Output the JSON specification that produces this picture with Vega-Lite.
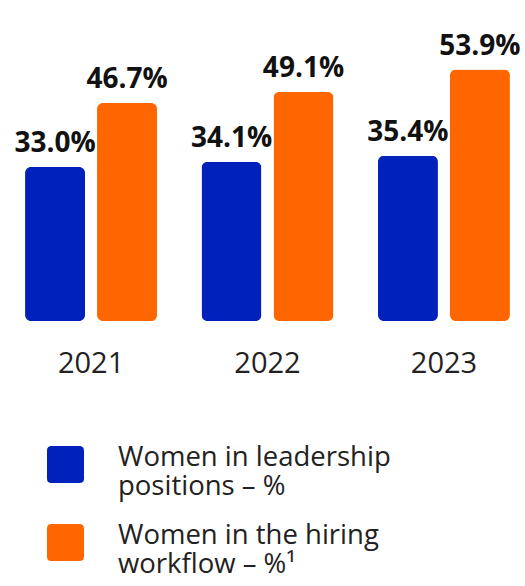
{
  "$schema": "https://vega.github.io/schema/vega-lite/v6.json",
  "autosize": "none",
  "width": 525,
  "height": 321,
  "padding": {"left": 0, "top": 0, "right": 0, "bottom": 265},
  "background": "white",
  "config": {"view": {"stroke": null}, "font": "Open Sans"},
  "data": {"values": [
    {"year": "2021", "series": "Women in leadership positions – %", "value": 0.330},
    {"year": "2021", "series": "Women in the hiring workflow – %¹", "value": 0.467},
    {"year": "2022", "series": "Women in leadership positions – %", "value": 0.341},
    {"year": "2022", "series": "Women in the hiring workflow – %¹", "value": 0.491},
    {"year": "2023", "series": "Women in leadership positions – %", "value": 0.354},
    {"year": "2023", "series": "Women in the hiring workflow – %¹", "value": 0.539}
  ]},
  "encoding": {
    "x": {
      "field": "year", "type": "nominal",
      "scale": {"range": [0, 535], "paddingInner": 0.252, "paddingOuter": 0.142},
      "axis": {"title": null, "domain": false, "ticks": false, "labelAngle": 0, "labelFontSize": 29, "labelColor": "#222222", "labelBaseline": "alphabetic", "labelPadding": 51, "labelFont": "Open Sans"}
    },
    "xOffset": {
      "field": "series", "type": "nominal",
      "scale": {"paddingInner": 0.1667, "paddingOuter": 0}
    },
    "y": {
      "field": "value", "type": "quantitative",
      "scale": {"domain": [0, 0.688], "nice": false},
      "axis": null
    }
  },
  "layer": [
    {
      "mark": {"type": "bar", "cornerRadius": 6},
      "encoding": {
        "color": {
          "field": "series", "type": "nominal",
          "scale": {"domain": ["Women in leadership positions – %", "Women in the hiring workflow – %¹"], "range": ["#0021BB", "#FF6600"]},
          "legend": {
            "title": null,
            "orient": "none",
            "legendX": 47,
            "legendY": 446,
            "direction": "vertical",
            "symbolType": "M-0.75,-1H0.75Q1,-1 1,-0.75V0.75Q1,1 0.75,1H-0.75Q-1,1 -1,0.75V-0.75Q-1,-1 -0.75,-1Z",
            "symbolSize": 1369,
            "symbolStrokeWidth": 0,
            "symbolOpacity": 1,
            "labelFontSize": 27.5,
            "labelColor": "#222222",
            "labelFont": "Open Sans",
            "labelLimit": 500,
            "labelOffset": 34,
            "labelBaseline": "top",
            "labelLineHeight": 31,
            "rowPadding": 20,
            "labelExpr": "datum.value == 'Women in leadership positions – %' ? ['Women in leadership', 'positions – %'] : ['Women in the hiring', 'workflow – %¹']",
            "encode": {"labels": {"update": {"dy": {"value": -21}}}}
          }
        }
      }
    },
    {
      "mark": {"type": "text", "baseline": "alphabetic", "dy": -15, "fontSize": 28, "fontWeight": "bold", "color": "#111111", "font": "Open Sans"},
      "encoding": {
        "text": {"field": "value", "type": "quantitative", "format": ".1%"}
      }
    }
  ]
}
